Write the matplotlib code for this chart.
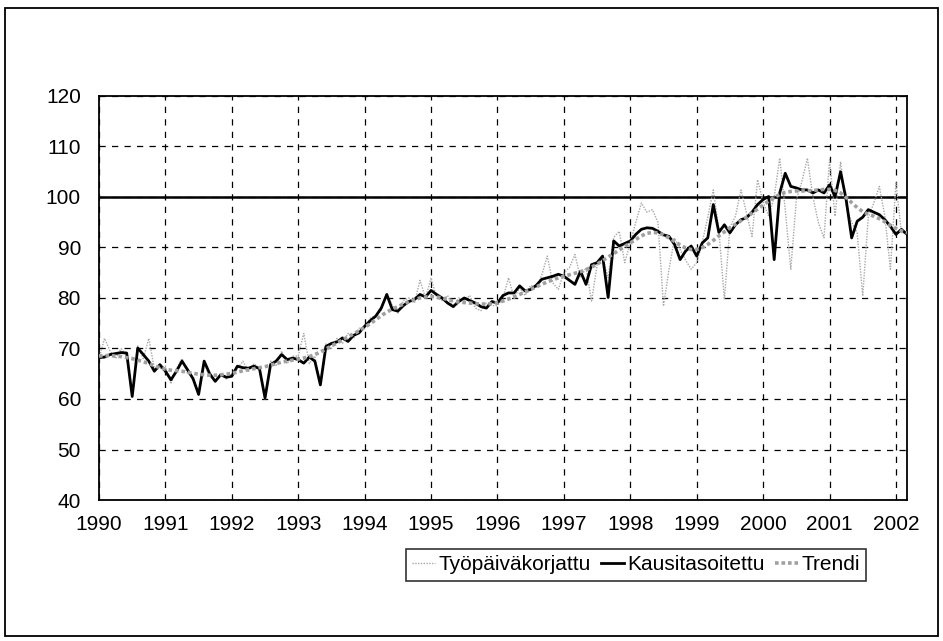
import matplotlib
matplotlib.use("Agg")
import matplotlib.pyplot as plt
from matplotlib.patches import Rectangle
import numpy as np

plt.rcParams['font.family'] = ['Liberation Sans', 'DejaVu Sans']

years = list(range(1990, 2003))
year_labels = [str(y) for y in years]

# Monthly values 1990-01 ... 2002-03
kausitasoitettu = [
    68.2, 68.3, 68.8, 69.0, 69.2, 69.1, 60.5, 70.1, 68.8, 67.5, 65.5, 66.8,   # 1990
    65.5, 63.8, 65.5, 67.5, 65.8, 64.0, 60.9, 67.5, 65.0, 63.5, 64.8, 64.3,   # 1991
    64.5, 66.5, 66.2, 66.1, 66.5, 66.0, 60.2, 66.8, 67.5, 68.8, 67.8, 68.1,   # 1992
    67.8, 67.1, 68.3, 67.5, 62.8, 70.4, 71.0, 71.3, 72.1, 71.4, 72.6, 73.1,   # 1993
    74.4, 75.5, 76.4, 78.0, 80.7, 77.7, 77.4, 78.5, 79.3, 79.7, 80.7, 80.2,   # 1994
    81.5, 80.7, 80.0, 79.0, 78.3, 79.3, 80.0, 79.5, 79.0, 78.3, 78.0, 79.3,   # 1995
    79.0, 80.5, 81.0, 81.0, 82.4, 81.4, 81.7, 82.5, 83.7, 84.0, 84.3, 84.7,   # 1996
    84.3, 83.5, 82.7, 85.3, 82.7, 86.6, 87.0, 88.3, 80.1, 91.3, 90.3, 90.8,   # 1997
    91.3, 92.6, 93.6, 93.9, 93.8, 93.2, 92.5, 92.2, 90.6, 87.6, 89.3, 90.3,   # 1998
    88.3, 90.9, 91.9, 98.5, 93.0, 94.5, 92.9, 94.5, 95.5, 95.9, 97.0, 98.5,   # 1999
    99.5, 100.1, 87.6, 100.8, 104.7, 102.1, 101.8, 101.4, 101.4, 100.8, 101.4, 100.8,  # 2000
    102.4, 100.1, 105.0, 99.5, 91.9, 95.2, 96.0, 97.5, 97.0, 96.5, 95.5, 94.2,  # 2001
    92.6, 93.6, 92.6,                                                          # 2002
]

trendi = [
    68.5, 68.6, 68.6, 68.5, 68.4, 68.2, 68.0, 67.7, 67.4, 67.0, 66.6, 66.2,
    65.9, 65.7, 65.6, 65.5, 65.3, 65.1, 64.9, 64.8, 64.7, 64.7, 64.8, 64.9,
    65.1, 65.3, 65.6, 65.8, 66.0, 66.2, 66.4, 66.7, 67.0, 67.3, 67.5, 67.7,
    67.9, 68.1, 68.4, 68.8, 69.3, 69.9, 70.5, 71.1, 71.7, 72.3, 72.9, 73.5,
    74.2, 74.9, 75.7, 76.5, 77.2, 77.8, 78.3, 78.8, 79.3, 79.7, 80.0, 80.2,
    80.3, 80.2, 80.0, 79.7, 79.4, 79.2, 79.1, 79.0, 78.9, 78.8, 78.8, 78.9,
    79.1, 79.4, 79.8, 80.2, 80.7, 81.2, 81.7, 82.2, 82.7, 83.2, 83.6, 84.0,
    84.3, 84.6, 84.9, 85.2, 85.6, 86.1, 86.7, 87.4, 88.1, 88.8, 89.5, 90.2,
    90.9, 91.6, 92.3, 92.8, 93.0, 92.9, 92.5, 91.9, 91.2, 90.5, 89.9, 89.6,
    89.6, 90.0, 90.6, 91.4, 92.3, 93.1, 93.9, 94.6, 95.3, 96.0, 96.8, 97.6,
    98.4, 99.2, 99.9, 100.5, 100.9, 101.1, 101.2, 101.2, 101.2, 101.3, 101.4, 101.5,
    101.5, 101.3, 100.8, 99.9, 98.9, 97.9, 97.1, 96.6, 96.2, 95.7, 95.1, 94.4,
    93.8, 93.3, 92.9,
]

tyopaivakorjattu = [
    68.0, 72.0, 69.5, 68.0, 70.0, 68.5, 60.5, 70.5, 68.0, 72.0, 66.0, 66.0,
    66.5, 63.0, 66.0, 68.0, 65.0, 64.5, 61.0, 67.0, 64.5, 63.5, 65.0, 64.0,
    65.0, 66.0, 67.5, 65.5, 67.0, 66.0, 60.0, 67.5, 66.5, 69.5, 67.0, 68.5,
    68.5, 73.0, 67.0, 68.5, 62.5, 71.0, 70.0, 72.0, 71.0, 73.0, 72.0, 74.0,
    74.0, 76.0, 76.5, 77.5, 81.0, 78.5, 77.0, 79.5, 80.0, 79.0, 83.5, 80.0,
    84.0, 80.0, 79.5, 80.5, 78.0, 80.0, 79.5, 80.5, 78.0, 77.5, 79.0, 78.5,
    78.5, 80.0, 84.0, 80.0, 82.0, 80.5, 82.5, 82.0, 84.5, 88.3, 83.0, 81.7,
    85.0, 86.0, 88.6, 84.0, 86.0, 79.4, 86.5, 88.0, 84.0, 92.0, 93.2, 87.0,
    91.0, 95.0, 98.8, 97.0, 97.5, 95.0, 78.4, 85.7, 91.9, 89.6, 87.5, 85.7,
    87.0, 91.0, 96.0, 101.4, 93.6, 79.7, 94.0, 96.2, 101.4, 96.8, 92.2, 103.4,
    99.0, 96.2, 100.0, 107.7, 97.5, 85.7, 99.5, 103.0, 107.7, 100.0, 94.9, 91.9,
    107.4, 96.2, 107.0, 98.2, 95.0, 92.9, 80.4, 96.0, 98.8, 102.1, 96.2, 85.7,
    102.8, 92.9, 92.9,
]

n = len(kausitasoitettu)
t = np.arange(n) / 12.0

fig = plt.figure(figsize=(9.43, 6.41), dpi=100)
ax = fig.add_axes([99/943, 1 - 500/641, (907 - 99)/943, (500 - 96)/641])

# outer chart border
fig.patches.append(Rectangle((5/943, 1 - 636/641), (938 - 5)/943, (636 - 8)/641,
                             transform=fig.transFigure, fill=False,
                             edgecolor='black', linewidth=1.3))

ax.plot(t, tyopaivakorjattu[:n], color='#a8a8a8', lw=1.0, linestyle=(0, (1, 1)),
        label='Työpäiväkorjattu', zorder=3)
ax.plot(t, kausitasoitettu, color='black', lw=2.0, label='Kausitasoitettu', zorder=4)
ax.plot(t, trendi[:n], color='#a0a0a0', lw=2.6, linestyle=(0, (1, 0.8)),
        label='Trendi', zorder=5)

ax.axhline(100, color='black', lw=1.8, zorder=2)

ax.set_xlim(0, (n - 1) / 12.0)
ax.set_ylim(40, 120)
ax.set_yticks(range(40, 121, 10))
ax.set_xticks(range(0, len(years)))
ax.set_xticklabels(year_labels)
ax.tick_params(axis='both', length=0, labelsize=15, colors='black')
ax.tick_params(axis='y', pad=13)
ax.tick_params(axis='x', pad=11)
ax.grid(True, color='black', linestyle=(0, (5, 5)), linewidth=0.9)
ax.set_axisbelow(True)
for s in ax.spines.values():
    s.set_color('black')
    s.set_linewidth(1.3)

handles, labels = ax.get_legend_handles_labels()
leg = fig.legend(handles, labels, loc='center', bbox_to_anchor=(636/943, 1 - 565/641),
                 ncol=3, fontsize=15, frameon=True, fancybox=False, edgecolor='black',
                 handlelength=1.1, handletextpad=0.15, columnspacing=0.5,
                 borderpad=0.3)
leg.get_frame().set_linewidth(1.2)

fig.savefig('out.png', dpi=100)
